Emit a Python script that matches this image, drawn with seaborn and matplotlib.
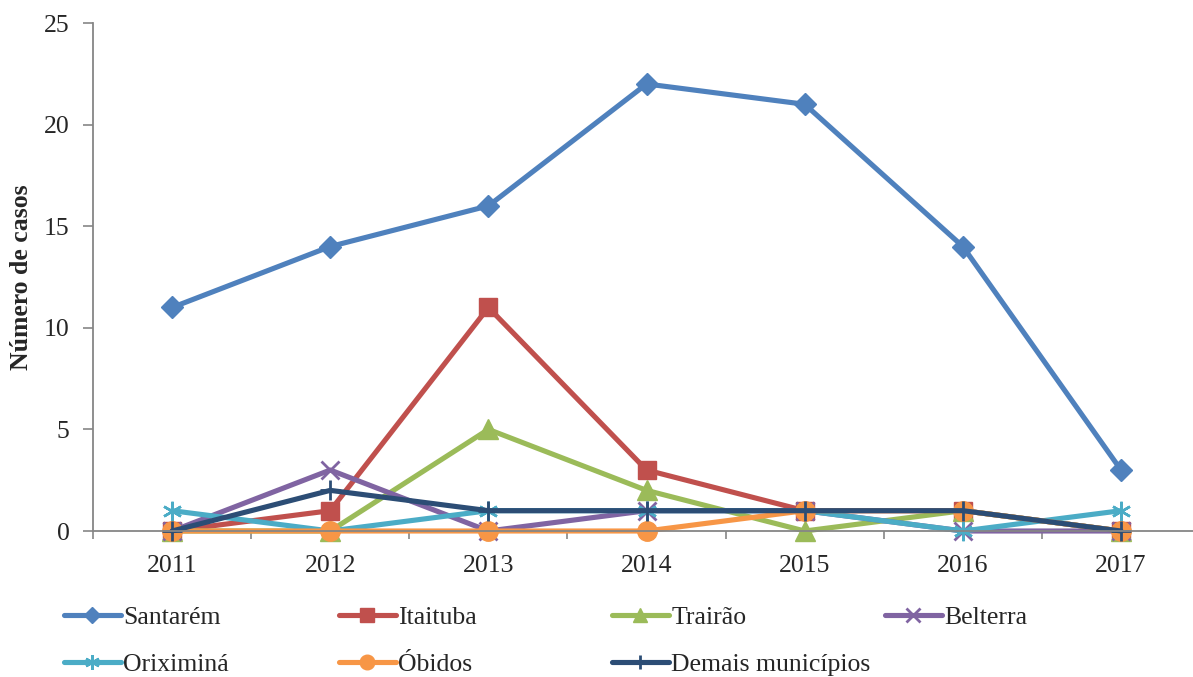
import matplotlib
matplotlib.use("Agg")
import matplotlib.pyplot as plt
import seaborn as sns
import pandas as pd
from matplotlib.ticker import FixedLocator, MultipleLocator

# Casos por município e ano
anos = ["2011", "2012", "2013", "2014", "2015", "2016", "2017"]
santarem = [11, 14, 16, 22, 21, 14, 3]
itaituba = [0, 1, 11, 3, 1, 1, 0]
trairao = [0, 0, 5, 2, 0, 1, 0]
belterra = [0, 3, 0, 1, 1, 0, 0]
oriximina = [1, 0, 1, 1, 1, 0, 1]
obidos = [0, 0, 0, 0, 1, 1, 0]
demais = [0, 2, 1, 1, 1, 1, 0]

series = [
    ("Santarém", santarem, "#4F81BD", "D", 11.5, 1),
    ("Itaituba", itaituba, "#C0504D", "s", 13, 1),
    ("Trairão", trairao, "#9BBB59", "^", 14, 1),
    ("Belterra", belterra, "#8064A2", "x", 13, 2.0),
    ("Oriximiná", oriximina, "#4BACC6", (6, 2, 0), 14, 1.8),
    ("Óbidos", obidos, "#F79646", "o", 14, 1),
    ("Demais municípios", demais, "#2C4D75", "+", 14, 2.0),
]

sns.set_theme(style="white")
plt.rcParams["font.family"] = ["Liberation Serif", "DejaVu Serif"]

fig = plt.figure(figsize=(11.93, 6.77), dpi=100)
ax = fig.add_axes([93 / 1193, 1 - 531 / 677, 1 - 93 / 1193, (531 - 23) / 677])

handles = {}
for nome, vals, cor, mk, ms, mew in series:
    df = pd.DataFrame({"x": range(len(anos)), "y": vals})
    sns.lineplot(data=df, x="x", y="y", ax=ax, color=cor, linewidth=3.7,
                 marker=mk, markersize=ms, markeredgecolor=cor,
                 markerfacecolor=cor, markeredgewidth=mew, label=nome,
                 legend=False, clip_on=False)
    handles[nome] = ax.lines[-1]

ax.set_xlim(-0.5, 6.455)
ax.set_ylim(0, 25)
ax.yaxis.set_major_locator(MultipleLocator(5))
ax.set_xticks(range(len(anos)))
ax.set_xticklabels(anos)
ax.xaxis.set_minor_locator(FixedLocator([i + 0.5 for i in range(-1, 7)]))
ax.tick_params(axis="x", which="major", length=0, labelsize=18.5, pad=17)
ax.tick_params(axis="x", which="minor", length=6, color="#868686", width=1.2,
               direction="out", bottom=True)
ax.tick_params(axis="y", which="major", length=7, color="#868686", width=1.2,
               direction="out", left=True, labelsize=18.5, pad=10)
for s in ["top", "right"]:
    ax.spines[s].set_visible(False)
for s in ["left", "bottom"]:
    ax.spines[s].set_color("#868686")
    ax.spines[s].set_linewidth(1.3)

ax.set_xlabel("")
ax.set_ylabel("Número de casos", fontsize=18.5, fontweight="bold")
ax.yaxis.set_label_coords(-60 / 1100, 0.5)

# Legenda em colunas de largura fixa
colunas = [["Santarém", "Oriximiná"], ["Itaituba", "Óbidos"],
           ["Trairão", "Demais municípios"], ["Belterra"]]
xs = [64, 339, 612, 885]
for cx, nomes in zip(xs, colunas):
    fig.legend([handles[n] for n in nomes], nomes,
               loc="upper left", bbox_to_anchor=(cx / 1193, 1 - 606 / 677),
               frameon=False, fontsize=18.5, handlelength=2.2,
               handletextpad=0.1, labelspacing=0.95, borderpad=0,
               borderaxespad=0, markerscale=0.75)

fig.savefig("out.png", dpi=100)
